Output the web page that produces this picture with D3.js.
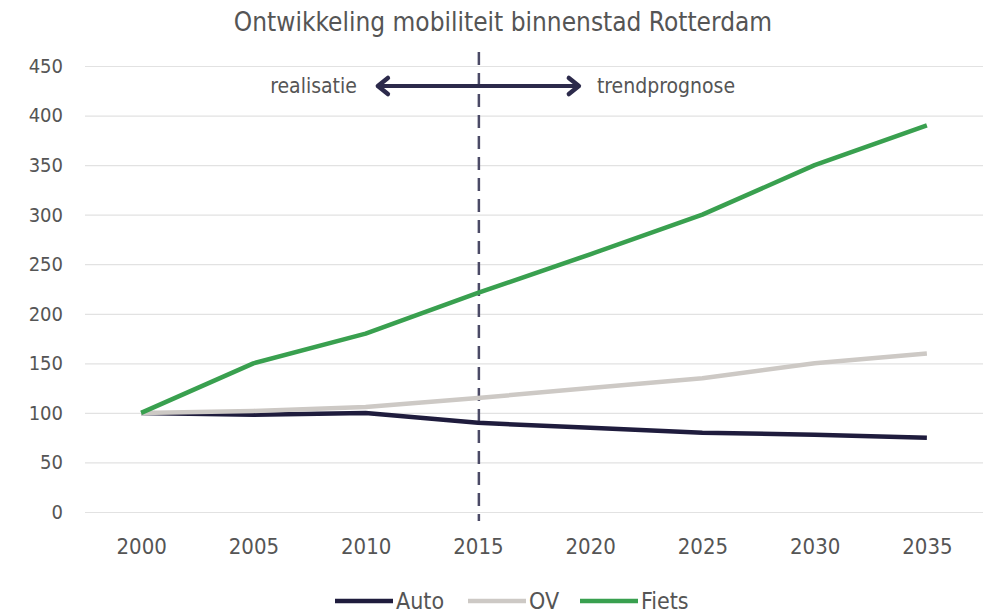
<!DOCTYPE html>
<html>
<head>
<meta charset="utf-8">
<script src="https://cdn.jsdelivr.net/npm/d3@7"></script>
<style>
  body { margin: 0; background: #fff; }
  text { font-family: "DejaVu Sans Condensed", "DejaVu Sans", sans-serif; fill: #555; }
</style>
</head>
<body>
<div id="chart"></div>
<script>
// chart data
var years = [2000, 2005, 2010, 2015, 2020, 2025, 2030, 2035];
var auto = [100, 98, 100, 90, 85, 80, 78, 75];
var ov = [100, 102, 106, 115, 125, 135, 150, 160];
var fiets = [100, 150, 180, 221, 260, 300, 350, 390];
var yTicks = [0, 50, 100, 150, 200, 250, 300, 350, 400, 450];
var splitYear = 2015;

const width = 988;
const height = 616;
const margin = {top: 66, right: 5, bottom: 104, left: 85};

var series = [
  {name: "Auto", values: auto, color: "#1f1c3d"},
  {name: "OV", values: ov, color: "#cdc9c5"},
  {name: "Fiets", values: fiets, color: "#39a04f"}
];

const svg = d3.select("#chart").append("svg")
  .attr("width", width)
  .attr("height", height);

const xScale = d3.scalePoint()
  .domain(years)
  .range([margin.left, width - margin.right])
  .padding(0.5);

const yScale = d3.scaleLinear()
  .domain([0, 450])
  .range([height - margin.bottom, margin.top]);

// title
svg.append("text")
  .attr("x", 503)
  .attr("y", 31)
  .attr("text-anchor", "middle")
  .style("font-size", "26px")
  .text("Ontwikkeling mobiliteit binnenstad Rotterdam");

// gridlines + y labels
const yAxis = d3.axisLeft(yScale)
  .tickValues(yTicks)
  .tickSize(-(width - margin.right - margin.left))
  .tickPadding(22);

const yAxisGroup = svg.append("g")
  .attr("transform", "translate(" + margin.left + ",0)")
  .call(yAxis);
yAxisGroup.select(".domain").remove();
yAxisGroup.selectAll(".tick line").attr("stroke", "#e2e2e2").attr("stroke-width", 1.2);
yAxisGroup.selectAll(".tick text")
  .style("font-size", "20px")
  .attr("fill", "#555")
  .attr("font-family", "'DejaVu Sans Condensed', sans-serif");

// x labels
const xAxis = d3.axisBottom(xScale).tickSize(0).tickPadding(26);
const xAxisGroup = svg.append("g")
  .attr("transform", "translate(0," + (height - margin.bottom) + ")")
  .call(xAxis);
xAxisGroup.select(".domain").remove();
xAxisGroup.selectAll(".tick text")
  .style("font-size", "22px")
  .attr("fill", "#555")
  .attr("font-family", "'DejaVu Sans Condensed', sans-serif");

// dashed split line
svg.append("line")
  .attr("x1", xScale(splitYear) + 1)
  .attr("x2", xScale(splitYear) + 1)
  .attr("y1", 52)
  .attr("y2", yScale(0) + 9)
  .attr("stroke", "#4b4a66")
  .attr("stroke-width", 2.5)
  .attr("stroke-dasharray", "13,8");

// double arrow
var arrowY = 86;
var ax1 = xScale(splitYear) - 100, ax2 = xScale(splitYear) + 101;
svg.append("line")
  .attr("x1", ax1 + 2).attr("x2", ax2 - 2)
  .attr("y1", arrowY).attr("y2", arrowY)
  .attr("stroke", "#2c2a4b")
  .attr("stroke-width", 4);
svg.append("path")
  .attr("d", "M" + (ax1 + 10) + "," + (arrowY - 8) + " L" + ax1 + "," + arrowY + " L" + (ax1 + 10) + "," + (arrowY + 8))
  .attr("fill", "none").attr("stroke", "#2c2a4b").attr("stroke-width", 4.5)
  .attr("stroke-linejoin", "round").attr("stroke-linecap", "round");
svg.append("path")
  .attr("d", "M" + (ax2 - 10) + "," + (arrowY - 8) + " L" + ax2 + "," + arrowY + " L" + (ax2 - 10) + "," + (arrowY + 8))
  .attr("fill", "none").attr("stroke", "#2c2a4b").attr("stroke-width", 4.5)
  .attr("stroke-linejoin", "round").attr("stroke-linecap", "round");

svg.append("text")
  .attr("x", ax1 - 21).attr("y", arrowY + 7)
  .attr("text-anchor", "end")
  .style("font-size", "21px")
  .text("realisatie");
svg.append("text")
  .attr("x", ax2 + 18).attr("y", arrowY + 7)
  .attr("text-anchor", "start")
  .style("font-size", "21px")
  .text("trendprognose");

// lines
const line = d3.line()
  .x(function(d, i) { return xScale(years[i]); })
  .y(function(d) { return yScale(d); });

svg.selectAll(".serie")
  .data(series)
  .enter().append("path")
  .attr("class", "serie")
  .attr("d", function(d) { return line(d.values); })
  .attr("fill", "none")
  .attr("stroke", function(d) { return d.color; })
  .attr("stroke-width", 4.5)
  .attr("stroke-linejoin", "round");

// legend
var legendX = [335, 468, 580];
const legend = svg.selectAll(".legend")
  .data(series)
  .enter().append("g")
  .attr("class", "legend")
  .attr("transform", function(d, i) { return "translate(" + legendX[i] + ",601)"; });
legend.append("line")
  .attr("x1", 0).attr("x2", 58)
  .attr("y1", 0).attr("y2", 0)
  .attr("stroke", function(d) { return d.color; })
  .attr("stroke-width", 4.5);
legend.append("text")
  .attr("x", 61).attr("y", 8)
  .style("font-size", "23px")
  .text(function(d) { return d.name; });
</script>
</body>
</html>
